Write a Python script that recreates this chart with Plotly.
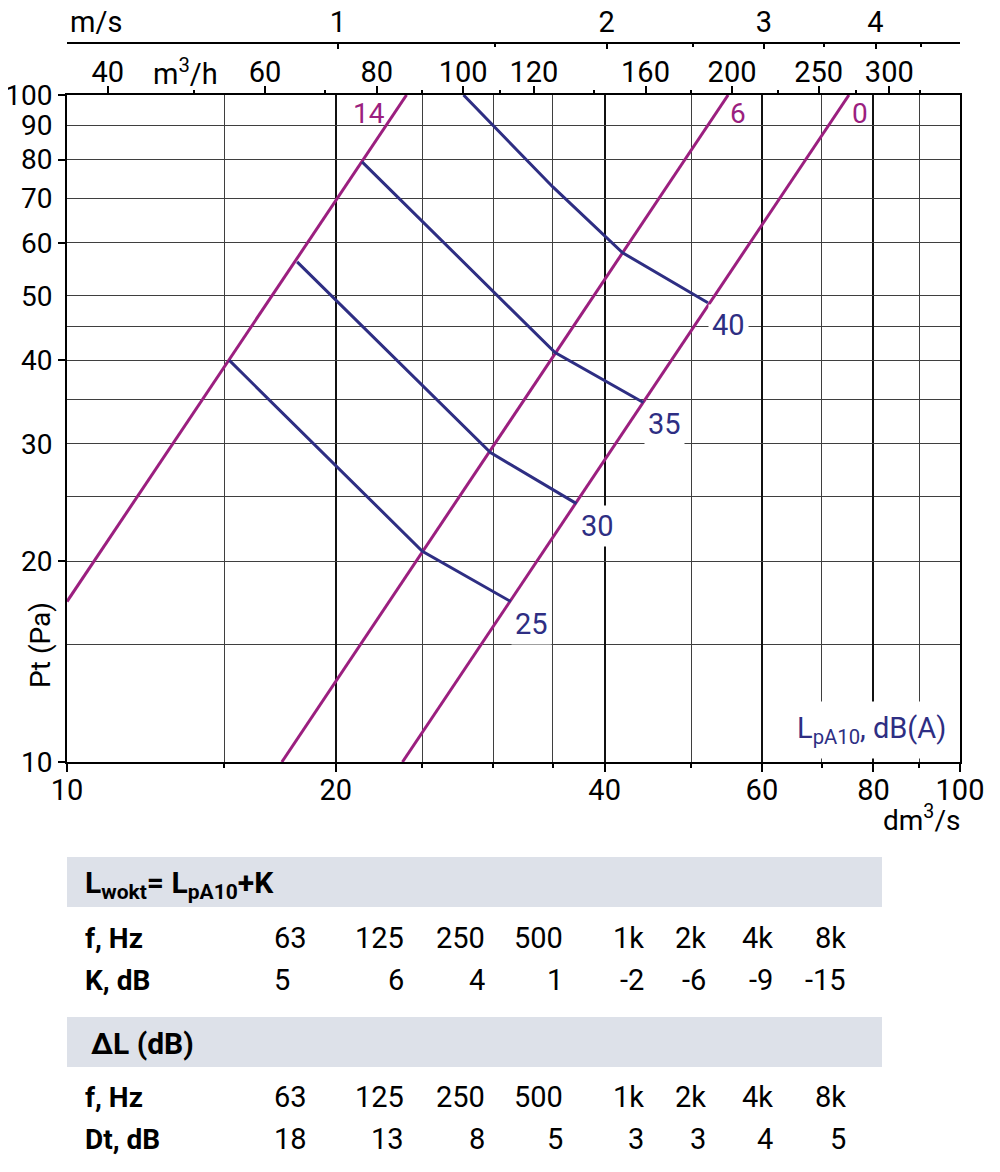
import numpy as np
import plotly.graph_objects as go

# ---------------- data ----------------
# damper-position lines (straight lines in log-log): endpoints (dm3/s, Pa)
damper_labels = ["14", "6", "0"]
damper_q = [[10.0, 24.0], [17.4, 55.0], [23.75, 75.1]]
damper_p = [[17.4, 100.0], [10.0, 100.0], [10.0, 100.0]]

# sound level curves LpA10 dB(A)
noise_levels = ["25", "30", "35", "40"]
noise_q = [[15.2, 25.0, 31.4], [18.1, 29.8, 37.2], [21.4, 35.2, 44.2], [27.8, 35.0, 41.9, 52.2]]
noise_p = [[40.0, 20.7, 17.4], [56.2, 29.1, 24.4], [79.4, 41.1, 34.6], [100.0, 72.8, 58.0, 48.8]]

# axes
x_ticks = [10, 20, 40, 60, 80, 100]
x_minor = [15, 25, 30, 35, 50, 70, 90]
y_labels = [10, 20, 30, 40, 50, 60, 70, 80, 90, 100]
y_minor = [15, 25, 35, 45]
y_ticks = [10, 20, 40, 60, 80, 100]
m3h_ticks = [40, 60, 80, 100, 120, 160, 200, 250, 300]
m3h_minor = [50, 70, 90, 110, 140, 180, 225, 275, 325]
ms_ticks = [1, 2, 3, 4]
ms_minor = [1.5, 2.5, 3.5, 4.5]

# tables
freqs = ["63", "125", "250", "500", "1k", "2k", "4k", "8k"]
K_dB = ["5", "6", "4", "1", "-2", "-6", "-9", "-15"]
Dt_dB = ["18", "13", "8", "5", "3", "3", "4", "5"]

# conversions
M3H_PER_DM3S = 3.6
DUCT_D = 0.160  # m
MS_PER_DM3S = 0.001 / (np.pi * (DUCT_D / 2) ** 2)

# ---------------- style ----------------
MAG = "#9b1f7f"
NAVY = "#2e2e83"
FONT = "Roboto"
OFF = 8                      # page body margin
W, H = 1000 - OFF, 1172 - OFF
PL, PR, PT, PB = 67, 960, 43, 762   # paper box in reference pixels
PLOT_TOP = 95


def fx(px):
    return (px - PL) / (PR - PL)


def fy(py):
    return (PB - py) / (PB - PT)


fig = go.Figure()

for lab, q, p in zip(damper_labels, damper_q, damper_p):
    fig.add_trace(go.Scatter(x=q, y=p, mode="lines", line=dict(color=MAG, width=3),
                             showlegend=False, hoverinfo="skip"))

for lab, q, p in zip(noise_levels, noise_q, noise_p):
    fig.add_trace(go.Scatter(x=q, y=p, mode="lines", line=dict(color=NAVY, width=3),
                             showlegend=False, hoverinfo="skip"))

# dummy traces so overlay axes are drawn
fig.add_trace(go.Scatter(x=[50], y=[50], xaxis="x3", yaxis="y", mode="markers",
                         marker=dict(opacity=0), showlegend=False, hoverinfo="skip"))
fig.add_trace(go.Scatter(x=[1], y=[50], xaxis="x4", yaxis="y", mode="markers",
                         marker=dict(opacity=0), showlegend=False, hoverinfo="skip"))
fig.add_trace(go.Scatter(x=[50], y=[50], xaxis="x", yaxis="y2", mode="markers",
                         marker=dict(opacity=0), showlegend=False, hoverinfo="skip"))

ydom = [0, (PB - PLOT_TOP) / (PB - PT)]
tickfont = dict(family=FONT, size=29, color="black")
ytickfont = dict(family=FONT, size=28, color="black")
GRID = "#3f3f3f"

fig.update_layout(
    template="none",
    width=W, height=H,
    margin=dict(l=PL - OFF, r=1000 - PR, t=PT - OFF, b=1172 - PB, pad=0,
                autoexpand=False),
    paper_bgcolor="white", plot_bgcolor="white",
    font=dict(family=FONT, color="black"),
    xaxis=dict(type="log", range=[1, 2], domain=[0, 1], anchor="y", automargin=False,
               tickvals=x_ticks, ticktext=[str(v) for v in x_ticks],
               ticks="outside", ticklen=8, tickwidth=2, tickcolor="black",
               tickfont=tickfont, ticklabelstandoff=-7,
               showgrid=True, gridcolor="#111111", gridwidth=1.7,
               showline=True, linecolor="black", linewidth=2, mirror=True,
               minor=dict(tickvals=x_minor, ticks="outside", ticklen=4, tickwidth=1.5,
                          tickcolor="black", showgrid=True, gridcolor=GRID, gridwidth=1.2),
               zeroline=False),
    yaxis=dict(type="log", range=[1, 2], domain=ydom, anchor="x", automargin=False,
               tickvals=y_labels, ticktext=[str(v) for v in y_labels],
               ticks="", tickfont=ytickfont, ticklabelstandoff=7,
               showgrid=True, gridcolor=GRID, gridwidth=1.2,
               showline=True, linecolor="black", linewidth=2, mirror=True,
               minor=dict(tickvals=y_minor, ticks="", showgrid=True,
                          gridcolor=GRID, gridwidth=1.2),
               zeroline=False),
    yaxis2=dict(type="log", range=[1, 2], domain=ydom, anchor="x", overlaying="y",
                automargin=False,
                side="left", tickvals=y_ticks, ticks="outside", ticklen=8, tickwidth=2,
                tickcolor="black", showticklabels=False, showgrid=False, showline=False,
                zeroline=False),
    xaxis3=dict(type="log", overlaying="x", anchor="y", side="top", automargin=False,
                range=[np.log10(10 * M3H_PER_DM3S), np.log10(100 * M3H_PER_DM3S)],
                tickvals=m3h_ticks, ticktext=[str(v) for v in m3h_ticks],
                ticks="outside", ticklen=8, tickwidth=2, tickcolor="black",
                tickfont=tickfont, ticklabelstandoff=-8, showgrid=False, showline=False,
                minor=dict(tickvals=m3h_minor, ticks="outside", ticklen=4, tickwidth=1.5,
                           tickcolor="black", showgrid=False),
                zeroline=False),
    xaxis4=dict(type="log", overlaying="x", anchor="free", position=1, side="top",
                automargin=False,
                range=[np.log10(10 * MS_PER_DM3S), np.log10(100 * MS_PER_DM3S)],
                tickvals=ms_ticks, ticktext=[str(v) for v in ms_ticks],
                ticks="inside", ticklen=5, tickwidth=2, tickcolor="black",
                tickfont=tickfont, ticklabelstandoff=-2, showgrid=False,
                showline=True, linecolor="black", linewidth=2,
                minor=dict(tickvals=ms_minor, ticks="inside", ticklen=3, tickwidth=2,
                           tickcolor="black", showgrid=False),
                zeroline=False),
)

ann = []
# damper labels near top of each line
dshift = {"14": -38, "6": 10, "0": 11}
for lab, q, p in zip(damper_labels, damper_q, damper_p):
    ann.append(dict(x=np.log10(q[-1]), y=np.log10(p[-1]), xref="x", yref="y",
                    xanchor="center", yanchor="middle",
                    text=lab, showarrow=False, xshift=dshift[lab], yshift=-19,
                    font=dict(family=FONT, size=28, color=MAG)))
# noise labels at end of each curve
for lab, q, p in zip(noise_levels, noise_q, noise_p):
    ann.append(dict(x=np.log10(q[-1]), y=np.log10(p[-1]), xref="x", yref="y",
                    xanchor="center", yanchor="middle",
                    text=lab, showarrow=False, xshift=21, yshift=-22,
                    bgcolor="white", borderpad=3,
                    font=dict(family=FONT, size=29, color=NAVY)))
# legend label
ann.append(dict(x=fx(956), y=fy(759), xref="paper", yref="paper", xanchor="right", yanchor="bottom",
                text="L<sub>pA10</sub>, dB(A)", showarrow=False, bgcolor="white", borderpad=9,
                font=dict(family=FONT, size=29, color=NAVY)))
# axis titles
ann.append(dict(x=fx(40), y=fy(645), xref="paper", yref="paper", xanchor="center", yanchor="middle",
                text="Pt (Pa)", textangle=-90, showarrow=False, font=dict(family=FONT, size=28)))
ann.append(dict(x=fx(962), y=fy(818), xref="paper", yref="paper", xanchor="right", yanchor="middle",
                text="dm<sup>3</sup>/s", showarrow=False, font=dict(family=FONT, size=28)))
ann.append(dict(x=fx(185), y=fy(72), xref="paper", yref="paper", xanchor="center", yanchor="middle",
                text="m<sup>3</sup>/h", showarrow=False, font=dict(family=FONT, size=29)))
ann.append(dict(x=fx(68), y=fy(22), xref="paper", yref="paper", xanchor="left", yanchor="middle",
                text="m/s", showarrow=False, font=dict(family=FONT, size=29)))

# table
shapes = []
for y0, y1 in [(857, 907), (1017, 1067)]:
    shapes.append(dict(type="rect", xref="paper", yref="paper", x0=fx(67), x1=fx(882),
                       y0=fy(y1), y1=fy(y0), fillcolor="#dde1e9", line=dict(width=0),
                       layer="below"))

vfont = dict(family=FONT, size=29, color="black")
lfont = dict(family=FONT, size=28, color="black")
hfont = dict(family=FONT, size=30, color="black")
col_right = [None, 406, 487, 565, 646, 708, 775, 848]
col_first_left = 272


def row(label, values, py):
    ann.append(dict(x=fx(83), y=fy(py), xref="paper", yref="paper", xanchor="left",
                    yanchor="middle", text="<b>%s</b>" % label, showarrow=False, font=lfont))
    for i, v in enumerate(values):
        if i == 0:
            ann.append(dict(x=fx(col_first_left), y=fy(py), xref="paper", yref="paper",
                            xanchor="left", yanchor="middle", text=v, showarrow=False, font=vfont))
        else:
            ann.append(dict(x=fx(col_right[i]), y=fy(py), xref="paper", yref="paper",
                            xanchor="right", yanchor="middle", text=v, showarrow=False, font=vfont))


ann.append(dict(x=fx(83), y=fy(884), xref="paper", yref="paper", xanchor="left", yanchor="middle",
                text="<b>L<sub>wokt</sub>= L<sub>pA10</sub>+K</b>", showarrow=False, font=hfont))
row("f, Hz", freqs, 938)
row("K, dB", K_dB, 980)
ann.append(dict(x=fx(89), y=fy(1043), xref="paper", yref="paper", xanchor="left", yanchor="middle",
                text="<b>ΔL (dB)</b>", showarrow=False, font=hfont))
row("f, Hz", freqs, 1097)
row("Dt, dB", Dt_dB, 1139)

fig.update_layout(annotations=ann, shapes=shapes)
fig.write_html("out.html")
